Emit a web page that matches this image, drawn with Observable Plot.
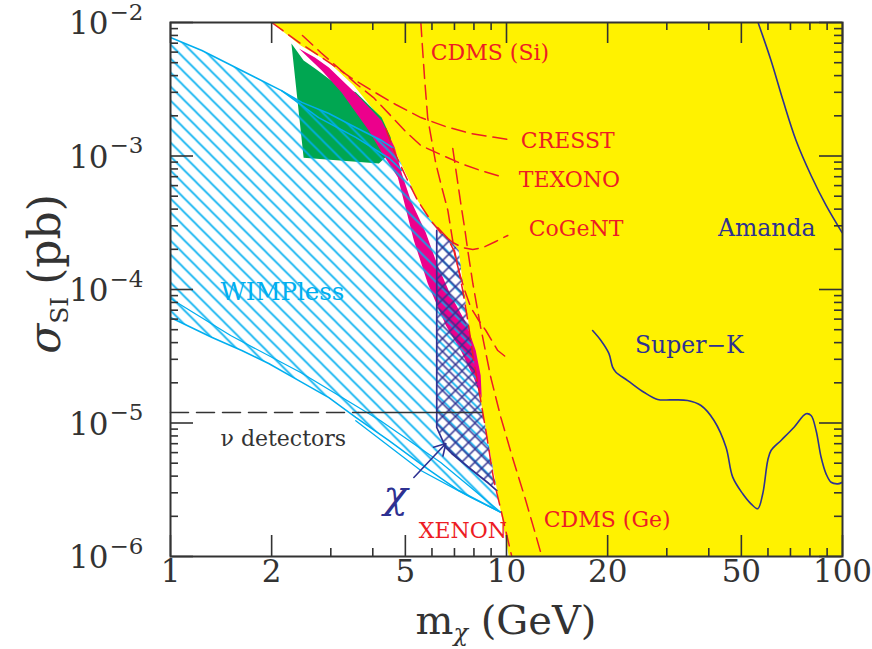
<!DOCTYPE html>
<html><head><meta charset="utf-8">
<script src="https://cdn.jsdelivr.net/npm/d3@7"></script>
<script src="https://cdn.jsdelivr.net/npm/@observablehq/plot@0.6"></script>
<style>body{margin:0;background:#fff;} svg{display:block;}</style>
</head><body><div id="chart"></div>
<script>
// ---------- axes ----------
const xMajorTicks = [1, 2, 5, 10, 20, 50, 100];
const xTickLabels = ["1", "2", "5", "10", "20", "50", "100"];
const xMinorTicks = [3, 4, 6, 7, 8, 9, 30, 40, 60, 70, 80, 90];
const yMajorTicks = [1e-6, 1e-5, 1e-4, 1e-3, 1e-2];
const yTickExponents = ["−6", "−5", "−4", "−3", "−2"];
const yMinorTicks = [2e-6,3e-6,4e-6,5e-6,6e-6,7e-6,8e-6,9e-6,
  2e-5,3e-5,4e-5,5e-5,6e-5,7e-5,8e-5,9e-5,
  2e-4,3e-4,4e-4,5e-4,6e-4,7e-4,8e-4,9e-4,
  2e-3,3e-3,4e-3,5e-3,6e-3,7e-3,8e-3,9e-3];

// ---------- regions [mass GeV, sigma pb] ----------
const excludedEdge = [[2.0,1e-2],[2.44,6.72e-3],[2.94,5.10e-3],[3.51,3.37e-3],[4.22,1.91e-3],[4.62,1.14e-3],
  [5.08,6.9e-4],[5.44,4.64e-4],[5.95,3.29e-4],[6.24,2.91e-4],[6.69,2.45e-4],[6.92,2.21e-4],[7.21,1.96e-4],
  [7.41,1.11e-4],[7.67,6.17e-5],[7.99,2.94e-5],[8.38,1.47e-5],[8.56,1.10e-5],[9.49,2.63e-6],[10.16,1e-6]];
const excludedFar = [[100,1e-6],[100,1e-2]];

const damaGreen = [[2.29,6.96e-3],[2.49,5.2e-3],[2.70,4.5e-3],[3.0,3.7e-3],[3.23,3.26e-3],[3.56,3.0e-3],
  [4.25,1.94e-3],[4.52,1.38e-3],[4.59,1.1e-3],[4.17,8.8e-4],[2.49,9.7e-4]];

const cogentMagenta = [[2.41,6.4e-3],[2.82,4.37e-3],[3.23,2.99e-3],[3.89,1.55e-3],[4.22,1.10e-3],[4.75,6.9e-4],
  [5.30,2.33e-4],[5.83,1.11e-4],[6.60,5.37e-5],[7.31,3.49e-5],[7.94,2.27e-5],[8.44,1.53e-5],
  [8.38,2.27e-5],[8.10,3.49e-5],[7.57,5.66e-5],[6.83,9.0e-5],[6.24,1.51e-4],[5.75,2.67e-4],[5.19,4.64e-4],
  [4.88,7.4e-4],[4.65,1.16e-3],[4.25,1.84e-3],[3.56,2.94e-3],[2.96,4.6e-3],[2.69,5.47e-3]];

const wimplessUpper = [[1.0,7.72e-3],[1.24,6.17e-3],[1.46,5.02e-3],[1.79,3.87e-3],[2.14,3.09e-3],[2.46,2.52e-3],
  [2.96,2.08e-3],[3.56,1.635e-3],[4.25,1.306e-3],[4.62,1.14e-3]];
const wimplessRight = [[5.08,6.9e-4],[5.44,4.64e-4],[5.95,3.29e-4],[6.24,2.91e-4],[6.69,2.45e-4],[6.92,2.21e-4],
  [7.21,1.96e-4],[7.41,1.11e-4],[7.67,6.17e-5],[7.99,2.94e-5],[8.38,1.47e-5],[8.56,1.10e-5],[9.49,2.63e-6],[9.62,2.14e-6]];
const wimplessLower = [[9.62,2.14e-6],[7.21,3.12e-6],[5.75,4.64e-6],[4.46,7.4e-6],[3.56,1.10e-5],[2.96,1.55e-5],
  [2.41,2.08e-5],[1.96,2.79e-5],[1.63,3.49e-5],[1.33,4.37e-5],[1.0,6.17e-5]];
const wimplessInner = [[2.14,3.09e-3],[2.76,1.94e-3],[3.56,1.38e-3],[4.46,9.7e-4],[4.88,7.8e-4]];
const wimplessFanA = [[1.0,8.56e-5],[1.51,4.52e-5],[2.44,2.39e-5],[4.22,1.04e-5],[6.37,5.06e-6],[9.62,2.14e-6]];
const wimplessFanB = [[3.56,1.04e-5],[5.56,4.41e-6],[7.83,2.77e-6],[9.62,2.14e-6]];

const chiRegion = [[6.20,2.77e-4],[6.64,2.49e-4],[6.92,2.21e-4],[7.21,1.96e-4],[7.41,1.11e-4],[7.67,6.17e-5],
  [7.99,2.94e-5],[8.38,1.47e-5],[8.56,1.10e-5],[9.36,3.12e-6],[8.86,3.52e-6],[7.72,4.64e-6],[6.87,5.91e-6],
  [6.60,6.55e-6],[6.20,9.25e-6]];
const chiOutline = [[6.20,2.77e-4],[6.20,9.25e-6],[6.60,6.55e-6],[6.87,5.91e-6],[7.72,4.64e-6],[8.86,3.52e-6],[9.36,3.12e-6]];
const chiArrow = [{m1: 5.30, s1: 3.91e-6, m2: 6.60, s2: 7.02e-6}];

// ---------- limit curves ----------
const cresst = [[2.0,1e-2],[2.44,6.96e-3],[2.94,5.10e-3],[3.44,3.87e-3],[4.02,3.04e-3],[4.68,2.43e-3],
  [5.56,1.94e-3],[6.60,1.66e-3],[7.83,1.474e-3],[10.09,1.33e-3]];
const texono = [[2.47,7.99e-3],[2.80,5.96e-3],[3.15,4.60e-3],[3.56,3.49e-3],[4.02,2.74e-3],[4.52,2.01e-3],
  [5.01,1.526e-3],[5.56,1.199e-3],[6.37,1.026e-3],[7.31,8.79e-4],[8.38,7.78e-4],[9.82,6.9e-4]];
const cdmsSi = [[5.56,1e-2],[5.63,6.17e-3],[5.71,3.68e-3],[5.83,1.91e-3],[5.99,1.306e-3],[6.16,8.79e-4],
  [6.42,5.81e-4],[6.69,3.91e-4],[6.97,2.06e-4],[7.21,1.388e-4],[7.51,9.83e-5],[7.83,7.33e-5],[8.27,5.86e-5],
  [8.68,4.93e-5],[9.42,3.49e-5],[10.09,3.04e-5]];
const cdmsGe = [[6.92,1.138e-3],[7.11,7.14e-4],[7.31,4.41e-4],[7.51,2.86e-4],[7.67,1.96e-4],[7.94,1.109e-4],
  [8.38,5.19e-5],[8.98,2.19e-5],[9.62,1.10e-5],[10.44,5.42e-6],[11.34,2.77e-6],[12.23,1.437e-6],[12.74,1e-6]];
const cogent = [[4.37,1.607e-3],[4.62,1.099e-3],[4.84,8.49e-4],[5.08,6.55e-4],[5.44,4.64e-4],[5.95,3.29e-4],
  [6.37,2.67e-4],[6.92,2.25e-4],[7.41,2.06e-4],[7.94,1.99e-4],[8.50,2.06e-4],[9.29,2.29e-4],[10.09,2.54e-4]];
const xenon = [[6.24,2.91e-4],[6.69,2.41e-4],[6.97,1.96e-4],[7.21,1.388e-4],[7.41,9.83e-5],[7.67,5.86e-5],
  [7.99,2.94e-5],[8.33,1.607e-5],[8.68,8.79e-6],[9.17,3.71e-6],[9.68,2.10e-6],[10.37,1e-6]];
const superK = [[18.04,4.93e-5],[19.10,4.15e-5],[20.17,3.32e-5],[20.69,2.62e-5],[21.17,2.40e-5],[22.94,2.08e-5],
  [25.64,1.70e-5],[28.18,1.50e-5],[30.87,1.49e-5],[34.61,1.474e-5],[37.92,1.352e-5],[41.46,1.044e-5],
  [45.01,6.59e-6],[47.13,3.93e-6],[50.47,2.95e-6],[53.43,2.48e-6],[55.94,2.28e-6],[57.89,2.95e-6],
  [59.91,5.24e-6],[61.28,6.22e-6],[65.62,7.40e-6],[71.75,9.30e-6],[77.91,1.172e-5],[80.63,1.138e-5],
  [83.44,8.79e-6],[86.37,5.54e-6],[89.36,4.16e-6],[92.48,3.60e-6],[96.83,3.50e-6],[100,3.60e-6]];
const amanda = [[56.06,1e-2],[61.28,5.19e-3],[66.55,2.60e-3],[72.75,1.306e-3],[80.63,7.14e-4],[89.36,4.26e-4],[99.7,2.67e-4]];

const nuLevel = 1.2e-5;
const nuDashed = [[1.0, nuLevel], [3.63, nuLevel]];
const nuSolid = [[3.63, nuLevel], [8.44, nuLevel]];

// ---------- labels ----------
const redLabels = [
  {t: "CDMS (Si)", m: 5.95, s: 5.96e-3}, {t: "CRESST", m: 11.03, s: 1.306e-3},
  {t: "TEXONO", m: 10.88, s: 6.67e-4}, {t: "CoGeNT", m: 11.65, s: 2.86e-4},
  {t: "XENON", m: 5.48, s: 1.566e-6}, {t: "CDMS (Ge)", m: 12.91, s: 1.89e-6}];
const navyLabels = [{t: "Amanda", m: 42.6, s: 2.86e-4}, {t: "Super−K", m: 24.12, s: 3.81e-5}];
const cyanLabels = [{t: "WIMPless", m: 1.409, s: 9.5e-5}];
const grayLabels = [{t: "ν detectors", m: 1.409, s: 7.65e-6}];
const chiLabel = [{t: "χ", m: 4.68, s: 2.86e-6}];

// ---------- style ----------
const YELLOW = "#fff200", GREEN = "#00a651", MAGENTA = "#ec008c", CYAN = "#00aeef",
      NAVY = "#2e3192", RED = "#ed1c24", INK = "#333333";
const HATCH_KEY = "#00aef1", CROSS_KEY = "#2e3193";
const FONT = "DejaVu Serif";
const pxPerDecadeX = 335.7, pxPerDecadeY = 133.5;
const fy = (px) => Math.pow(10, px / pxPerDecadeY);
const fx = (px) => Math.pow(10, px / pxPerDecadeX);
const X = d => d[0], Y = d => d[1];
const dash = "14,7";

const marks = [
  Plot.line([...excludedEdge, ...excludedFar], {x: X, y: Y, fill: YELLOW, stroke: "none", clip: true}),
  Plot.line(damaGreen, {x: X, y: Y, fill: GREEN, stroke: "none", clip: true}),
  Plot.line(cogentMagenta, {x: X, y: Y, fill: MAGENTA, stroke: "none", clip: true}),
  Plot.line([...wimplessUpper, ...wimplessRight, ...wimplessLower], {x: X, y: Y, fill: HATCH_KEY, stroke: "none", clip: true}),
  Plot.line(wimplessUpper, {x: X, y: Y, stroke: CYAN, strokeWidth: 1.5, clip: true}),
  Plot.line(wimplessLower, {x: X, y: Y, stroke: CYAN, strokeWidth: 1.5, clip: true}),
  Plot.line(wimplessInner, {x: X, y: Y, stroke: CYAN, strokeWidth: 1.5, clip: true}),
  Plot.line(wimplessFanA, {x: X, y: Y, stroke: CYAN, strokeWidth: 1.3, clip: true}),
  Plot.line(wimplessFanB, {x: X, y: Y, stroke: CYAN, strokeWidth: 1.3, clip: true}),
  Plot.line(chiRegion, {x: X, y: Y, fill: CROSS_KEY, stroke: "none", clip: true}),
  Plot.line(chiOutline, {x: X, y: Y, stroke: NAVY, strokeWidth: 1.7, clip: true}),
  ...[cresst, texono, cdmsSi, cdmsGe, cogent, xenon].map(c =>
    Plot.line(c, {x: X, y: Y, stroke: RED, strokeWidth: 1.5, strokeDasharray: dash, clip: true})),
  Plot.line(superK, {x: X, y: Y, stroke: NAVY, strokeWidth: 1.6, curve: "catmull-rom", clip: true}),
  Plot.line(amanda, {x: X, y: Y, stroke: NAVY, strokeWidth: 1.6, curve: "catmull-rom", clip: true}),
  Plot.line(nuDashed, {x: X, y: Y, stroke: INK, strokeWidth: 1.5, strokeDasharray: "18,8"}),
  Plot.line(nuSolid, {x: X, y: Y, stroke: INK, strokeWidth: 1.5}),
  Plot.arrow(chiArrow, {x1: "m1", y1: "s1", x2: "m2", y2: "s2", stroke: NAVY, strokeWidth: 1.6, headLength: 12}),
  Plot.text(redLabels, {x: "m", y: "s", text: "t", fill: RED, fontSize: 22, textAnchor: "start"}),
  Plot.text(navyLabels, {x: "m", y: "s", text: "t", fill: NAVY, fontSize: 23.5, textAnchor: "start"}),
  Plot.text(cyanLabels, {x: "m", y: "s", text: "t", fill: CYAN, fontSize: 24.5, textAnchor: "start"}),
  Plot.text(grayLabels, {x: "m", y: "s", text: "t", fill: INK, fontSize: 22, textAnchor: "start"}),
  Plot.text(chiLabel, {x: "m", y: "s", text: "t", fill: NAVY, fontSize: 40, fontStyle: "italic", textAnchor: "middle"}),
  // ticks (inward, all four sides)
  Plot.ruleX(xMajorTicks, {x: d => d, y1: 1e-6, y2: 1e-6 * fy(21), stroke: INK, strokeWidth: 1.6}),
  Plot.ruleX(xMajorTicks, {x: d => d, y1: 1e-2, y2: 1e-2 / fy(21), stroke: INK, strokeWidth: 1.6}),
  Plot.ruleX(xMinorTicks, {x: d => d, y1: 1e-6, y2: 1e-6 * fy(8), stroke: INK, strokeWidth: 1.6}),
  Plot.ruleX(xMinorTicks, {x: d => d, y1: 1e-2, y2: 1e-2 / fy(8), stroke: INK, strokeWidth: 1.6}),
  Plot.ruleY(yMajorTicks, {y: d => d, x1: 1, x2: fx(23), stroke: INK, strokeWidth: 1.6}),
  Plot.ruleY(yMajorTicks, {y: d => d, x1: 100, x2: 100 / fx(23), stroke: INK, strokeWidth: 1.6}),
  Plot.ruleY(yMinorTicks, {y: d => d, x1: 1, x2: fx(8), stroke: INK, strokeWidth: 1.6}),
  Plot.ruleY(yMinorTicks, {y: d => d, x1: 100, x2: 100 / fx(8), stroke: INK, strokeWidth: 1.6}),
  Plot.frame({stroke: INK, strokeWidth: 2}),
  // tick labels
  Plot.text(xMajorTicks, {x: d => d, text: (d, i) => xTickLabels[i], frameAnchor: "bottom", dy: 25, fontSize: 31, fill: INK}),
  Plot.text(yMajorTicks, {y: d => d, text: () => "10", frameAnchor: "left", dx: -62, dy: 2, textAnchor: "end", fontSize: 31, fill: INK}),
  Plot.text(yMajorTicks, {y: d => d, text: (d, i) => yTickExponents[i], frameAnchor: "left", dx: -61, dy: -10, textAnchor: "start", fontSize: 23, fill: INK})
];

const chart = Plot.plot({
  width: 872, height: 649,
  marginLeft: 170, marginRight: 30, marginTop: 22, marginBottom: 93,
  x: {type: "log", domain: [1, 100], axis: null},
  y: {type: "log", domain: [1e-6, 1e-2], axis: null},
  style: {fontFamily: FONT, background: "#fff", overflow: "visible"},
  marks
});

// hatch patterns
const svg = d3.select(chart.tagName.toLowerCase() === "svg" ? chart : chart.querySelector("svg"));
const defs = svg.insert("defs", ":first-child");
const p1 = defs.append("pattern").attr("id", "hatchCyan").attr("patternUnits", "userSpaceOnUse")
  .attr("width", 14).attr("height", 14);
p1.append("path").attr("d", "M-1,-1L15,15M-1,13L1,15M13,-1L15,1").attr("stroke", CYAN).attr("stroke-width", 1.6).attr("fill", "none");
const p2 = defs.append("pattern").attr("id", "crossNavy").attr("patternUnits", "userSpaceOnUse")
  .attr("width", 13).attr("height", 13);
p2.append("path").attr("d", "M-1,-1L14,14M-1,12L1,14M12,-1L14,1M-1,14L14,-1M-1,1L1,-1M12,14L14,12").attr("stroke", NAVY).attr("stroke-width", 1.5).attr("fill", "none");
svg.selectAll(`[fill="${HATCH_KEY}"]`).attr("fill", "url(#hatchCyan)");
svg.selectAll(`[fill="${CROSS_KEY}"]`).attr("fill", "url(#crossNavy)");

// axis titles
const yt = svg.append("text").attr("transform", "translate(60,274) rotate(-90)")
  .attr("text-anchor", "middle").attr("font-family", FONT).attr("font-size", 44).attr("fill", INK);
yt.append("tspan").attr("font-style", "italic").text("σ");
yt.append("tspan").attr("font-size", 25).attr("dy", 8).text("SI");
yt.append("tspan").attr("dy", -8).attr("dx", 12).text("(pb)");
const xt = svg.append("text").attr("x", 506).attr("y", 634)
  .attr("text-anchor", "middle").attr("font-family", FONT).attr("font-size", 40).attr("fill", INK);
xt.append("tspan").text("m");
xt.append("tspan").attr("font-size", 24).attr("dy", 7).attr("font-style", "italic").text("χ");
xt.append("tspan").attr("dy", -7).text(" (GeV)");

document.getElementById("chart").appendChild(chart);
</script>
</body></html>
